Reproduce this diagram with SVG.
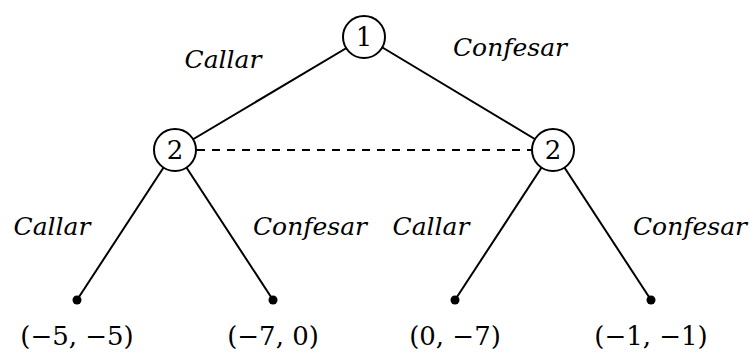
<svg xmlns="http://www.w3.org/2000/svg" width="754" height="352" viewBox="0 0 754 352">
<style>
.edge{stroke:#000;stroke-width:2;fill:none}
.dash{stroke:#000;stroke-width:2;stroke-dasharray:8 7;fill:none}
.node{fill:#fff;stroke:#000;stroke-width:2}
.leaf{fill:#000}
.num{font-family:'DejaVu Serif','Liberation Serif',serif;font-size:26px;text-anchor:middle}
.lab{font-family:'DejaVu Serif','Liberation Serif',serif;font-style:italic;font-size:25px;text-anchor:middle}
</style>
<rect width="754" height="352" fill="#fff"/>
<g id="connectors">
<line class="edge" x1="365" y1="37" x2="175" y2="150"/>
<line class="edge" x1="365" y1="37" x2="553" y2="150"/>
<line class="dash" x1="197" y1="150" x2="531" y2="150"/>
<line class="edge" x1="175" y1="150" x2="77" y2="300"/>
<line class="edge" x1="175" y1="150" x2="273" y2="300"/>
<line class="edge" x1="553" y1="150" x2="455" y2="300"/>
<line class="edge" x1="553" y1="150" x2="651" y2="300"/>
<text class="lab" x="223" y="68">Callar</text>
<text class="lab" x="510" y="56">Confesar</text>
<text class="lab" x="52" y="235">Callar</text>
<text class="lab" x="310" y="235">Confesar</text>
<text class="lab" x="431" y="235">Callar</text>
<text class="lab" x="690" y="235">Confesar</text>
</g>
<g id="n1"><circle class="node" cx="364" cy="37" r="21"/><text class="num" x="364" y="46">1</text></g>
<g id="n2a"><circle class="node" cx="175" cy="150" r="21"/><text class="num" x="175" y="159">2</text></g>
<g id="n2b"><circle class="node" cx="553" cy="150" r="21"/><text class="num" x="553" y="159">2</text></g>
<g id="l1"><circle class="leaf" cx="77" cy="300" r="4.5"/><text class="num" x="77" y="345">(−5, −5)</text></g>
<g id="l2"><circle class="leaf" cx="273" cy="300" r="4.5"/><text class="num" x="273" y="345">(−7, 0)</text></g>
<g id="l3"><circle class="leaf" cx="455" cy="300" r="4.5"/><text class="num" x="455" y="345">(0, −7)</text></g>
<g id="l4"><circle class="leaf" cx="651" cy="300" r="4.5"/><text class="num" x="651" y="345">(−1, −1)</text></g>
</svg>
